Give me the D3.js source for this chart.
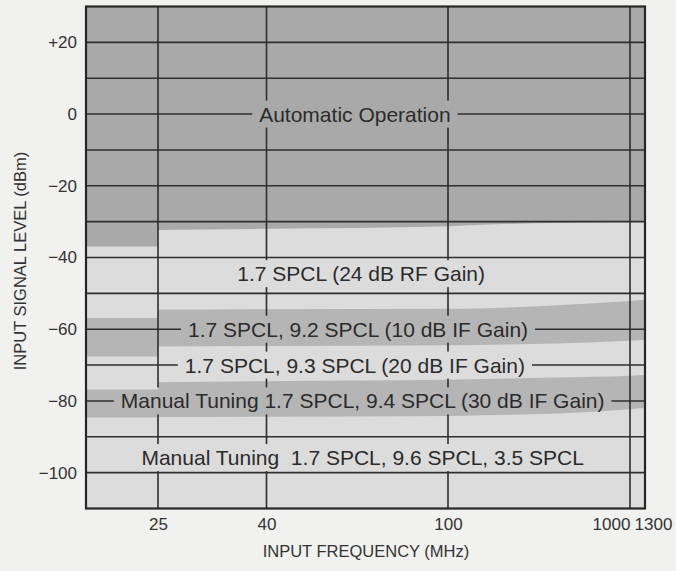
<!DOCTYPE html>
<html><head><meta charset="utf-8">
<script src="https://cdn.jsdelivr.net/npm/d3@7"></script>
<style>
html,body{margin:0;padding:0;background:#f1f1ef;}
svg{display:block;font-family:"Liberation Sans",Arial,Helvetica,sans-serif;}
</style></head><body>
<svg id="chart" width="676" height="571"></svg>
<script>
// ---------- data ----------
const xTickValues = [25, 40, 100, 1000, 1300];
const xTickLabels = ["25", "40", "100", "1000", "1300"];
const yTickValues = [20, 0, -20, -40, -60, -80, -100];
const yTickLabels = ["+20", "0", "\u221220", "\u221240", "\u221260", "\u221280", "\u2212100"];
const yGridValues = [20, 10, 0, -10, -20, -30, -40, -50, -60, -70, -80, -90, -100];
const xGridValues = [25, 40, 100, 1000];
const freqBreaks = [10, 25, 40, 100, 1000, 1300];   // MHz, non-uniform axis breakpoints
const levelDomain = [-110, 30];                      // dBm

// band boundaries below 25 MHz (constant)
const leftFreqs = [10, 25];
const autoBottomL = -36.9;
const if10TopL = -56.9;
const if10BottomL = -67.6;
const if30TopL = -76.8;
const if30BottomL = -84.6;

// band boundaries above 25 MHz
const rightFreqs   = [25, 40, 100, 150, 400, 1000, 1300];
const autoBottomR  = [-32.3, -32.0, -31.3, -30.9, -30.3, -30.0, -29.9];
const if10TopR     = [-54.5, -54.4, -54.3, -54.2, -53.3, -52.1, -51.8];
const if10BottomR  = [-64.8, -64.7, -64.5, -64.4, -64.0, -63.2, -63.0];
const if30TopR     = [-74.8, -74.5, -74.1, -73.9, -73.5, -73.0, -72.8];
const if30BottomR  = [-84.5, -84.4, -84.2, -84.0, -83.5, -82.3, -82.0];

const bandLabels = [
  "Automatic Operation",
  "1.7 SPCL (24 dB RF Gain)",
  "1.7 SPCL, 9.2 SPCL (10 dB IF Gain)",
  "1.7 SPCL, 9.3 SPCL (20 dB IF Gain)",
  "Manual Tuning 1.7 SPCL, 9.4 SPCL (30 dB IF Gain)",
  "Manual Tuning\u00a0\u00a01.7 SPCL, 9.6 SPCL, 3.5 SPCL"
];
const labelFreqs  = [62.5, 64.5, 63.5, 62.5, 65, 65];
const labelLevels = [0, -44.5, -60, -70, -80, -95.8];

// ---------- chart ----------
(function () {
const svg = d3.select("#chart");
const pL = 86, pR = 645, pT = 6.5, pB = 508.5;

const x = d3.scaleLog().domain(freqBreaks).range([pL, 158, 266.5, 448, 630, pR]);
const y = d3.scaleLinear().domain(levelDomain).range([pB, pT]);

const cDark = "#a9a9a9", cMed = "#b5b5b5", cLight = "#dcdcdc";

const defs = svg.append("defs");
const clip = defs.append("clipPath").attr("id", "plotClip");
clip.append("rect").attr("x", pL).attr("y", pT).attr("width", pR - pL).attr("height", pB - pT);

const bandG = svg.append("g").attr("clip-path", "url(#plotClip)");
bandG.append("rect").attr("x", pL).attr("y", pT).attr("width", pR - pL).attr("height", pB - pT).attr("fill", cLight);

const area = d3.area().x(d => x(d.f)).y0(d => y(d.lo)).y1(d => y(d.hi));
const areaCurve = d3.area().x(d => x(d.f)).y0(d => y(d.lo)).y1(d => y(d.hi)).curve(d3.curveMonotoneX);

function band(hiL, loL, hiR, loR, color) {
  const lData = leftFreqs.map(f => ({f, hi: hiL, lo: loL}));
  const rData = rightFreqs.map((f, i) => ({f, hi: Array.isArray(hiR) ? hiR[i] : hiR, lo: loR[i]}));
  bandG.append("path").attr("d", area(lData)).attr("fill", color);
  bandG.append("path").attr("d", areaCurve(rData)).attr("fill", color);
}
band(levelDomain[1], autoBottomL, levelDomain[1], autoBottomR, cDark);
band(if10TopL, if10BottomL, if10TopR, if10BottomR, cMed);
band(if30TopL, if30BottomL, if30TopR, if30BottomR, cMed);

// grid (masked around labels)
const gridG = svg.append("g").attr("mask", "url(#gridMask)").attr("stroke", "#2e2e2e").attr("stroke-width", 1.6);
gridG.selectAll("line.h").data(yGridValues).join("line").attr("class", "h")
  .attr("x1", pL).attr("x2", pR).attr("y1", d => y(d)).attr("y2", d => y(d));
gridG.selectAll("line.v").data(xGridValues).join("line").attr("class", "v")
  .attr("x1", d => x(d)).attr("x2", d => x(d)).attr("y1", pT).attr("y2", pB);

// frame
svg.append("rect").attr("x", pL).attr("y", pT).attr("width", pR - pL).attr("height", pB - pT)
  .attr("fill", "none").attr("stroke", "#262626").attr("stroke-width", 2.2);

// labels
const labelG = svg.append("g");
const texts = labelG.selectAll("text").data(bandLabels).join("text")
  .attr("x", (d, i) => x(labelFreqs[i])).attr("y", (d, i) => y(labelLevels[i])).attr("dy", "0.36em")
  .attr("text-anchor", "middle").attr("font-size", 21).attr("fill", "#2b2b2b").text(d => d);

const mask = defs.append("mask").attr("id", "gridMask").attr("maskUnits", "userSpaceOnUse")
  .attr("x", 0).attr("y", 0).attr("width", 676).attr("height", 571);
mask.append("rect").attr("width", 676).attr("height", 571).attr("fill", "white");
texts.each(function (d, i) {
  const w = this.getComputedTextLength();
  mask.append("rect").attr("x", x(labelFreqs[i]) - w / 2 - 7).attr("y", y(labelLevels[i]) - 13.5)
    .attr("width", w + 14).attr("height", 27).attr("fill", "black");
});

// axes
const yAxis = d3.axisLeft(y).tickValues(yTickValues).tickSize(0).tickPadding(9)
  .tickFormat(d => yTickLabels[yTickValues.indexOf(d)]);
const yg = svg.append("g").attr("transform", `translate(${pL},0)`).call(yAxis);
yg.select(".domain").remove();
yg.selectAll("text").attr("font-size", 17).attr("fill", "#333").attr("font-family", null);

const xAxis = d3.axisBottom(x).tickValues(xTickValues).tickSize(0).tickPadding(9)
  .tickFormat(d => xTickLabels[xTickValues.indexOf(d)]);
const xg = svg.append("g").attr("transform", `translate(0,${pB})`).call(xAxis);
xg.select(".domain").remove();
xg.selectAll("text").attr("font-size", 17).attr("fill", "#333").attr("font-family", null)
  .attr("dx", d => d === 1000 ? -19 : d === 1300 ? 8 : 0);

// axis titles
svg.append("text").attr("x", 366).attr("y", 557).attr("text-anchor", "middle")
  .attr("font-size", 16.5).attr("fill", "#333").text("INPUT FREQUENCY (MHz)");
svg.append("text").attr("transform", "translate(26,261) rotate(-90)").attr("text-anchor", "middle")
  .attr("font-size", 16.5).attr("fill", "#333").text("INPUT SIGNAL LEVEL (dBm)");
})();
</script>
</body></html>
